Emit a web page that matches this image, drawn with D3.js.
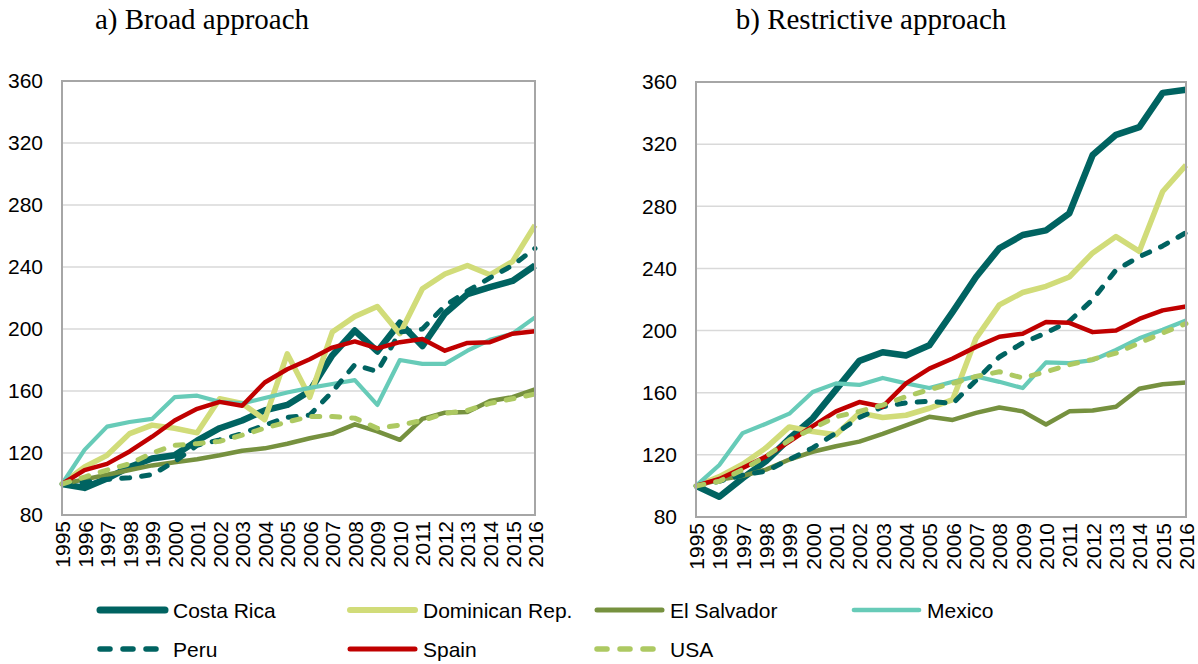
<!DOCTYPE html>
<html>
<head>
<meta charset="utf-8">
<script src="https://cdn.jsdelivr.net/npm/d3@7"></script>
<style>
  html, body { margin: 0; padding: 0; background: #ffffff; }
  svg { display: block; }
</style>
</head>
<body>
<svg id="chart" width="1198" height="664"></svg>
<script>
// ---------- DATA ----------
const years = ["1995","1996","1997","1998","1999","2000","2001","2002","2003","2004","2005","2006","2007","2008","2009","2010","2011","2012","2013","2014","2015","2016"];
const yTicks = [80, 120, 160, 200, 240, 280, 320, 360];
const seriesNames = ["Costa Rica", "Dominican Rep.", "El Salvador", "Mexico", "Peru", "Spain", "USA"];
const panelTitles = ["a) Broad approach", "b) Restrictive approach"];

// a) Broad approach
const broadCostaRica = [100, 97.5, 103.5, 111, 116.5, 118.5, 128, 136, 141, 147.5, 151, 160, 183, 199, 185.5, 204, 189, 210, 222.5, 227, 231, 241];
const broadDominican = [100, 111, 118.5, 132.5, 138, 136, 133, 155, 152, 141.5, 184, 156, 198, 208, 214.5, 197, 226, 235.5, 241, 235, 243.5, 267];
const broadElSalvador = [100, 103, 106, 109, 112, 114, 116, 118.5, 121.5, 123, 126, 129.5, 132.5, 138.5, 134, 128.5, 142, 146, 146.5, 153.5, 156, 161];
const broadMexico = [100, 122, 137, 140, 142, 156, 157, 153, 152, 155.5, 159, 162, 164.5, 167, 151, 180, 177.5, 177.5, 186, 193, 197, 207.5];
const broadPeru = [100, 101, 103, 104, 106, 114.5, 125, 128.5, 132.5, 138, 143, 144.5, 159.5, 177, 172.5, 198, 200, 215, 224.5, 233, 241, 252];
const broadSpain = [100, 109, 113, 121, 130.5, 141, 148.5, 153, 150.5, 165.5, 174, 180.5, 188, 192, 187.5, 191.5, 193.5, 186, 191, 191.5, 197, 198.5];
const broadUSA = [100, 104.5, 109, 113, 120, 125, 126, 127.5, 131.5, 136, 140, 143.5, 143.5, 142.5, 136, 138, 141, 145.5, 147.5, 152, 155, 158];

// b) Restrictive approach
const restrCostaRica = [100, 93, 105, 116, 130.5, 143.5, 162, 180.5, 186, 184, 190.5, 212, 234.5, 253, 261.5, 264.5, 275.5, 313, 326, 331, 353, 355];
const restrDominican = [100, 106, 114, 124.5, 138, 135, 133, 147, 144, 145.5, 150, 155.5, 195, 216.5, 224.5, 228.5, 234.5, 250, 260.5, 251, 289.5, 306.5];
const restrElSalvador = [100, 104, 106.5, 110.5, 117, 122, 125.5, 128.5, 133.5, 139, 144.5, 142.5, 147, 150.5, 148, 139.5, 148, 148.5, 151, 162.5, 165.5, 166.5];
const restrMexico = [100, 113.5, 134, 140, 146.5, 160.5, 166, 165, 169.5, 166, 163, 167, 170.5, 167, 163, 179.5, 179, 181, 187.5, 195, 200.5, 206.5];
const restrPeru = [100, 103, 107, 109.5, 117, 124.5, 134, 144, 151, 153.5, 154.5, 153, 168, 183, 192, 198.5, 206, 220, 239, 247.5, 254.5, 263];
const restrSpain = [100, 104.5, 111.5, 119, 128.5, 138.5, 148, 154, 151, 166, 175.5, 182, 189.5, 196, 198, 205.5, 205, 199, 200, 207.5, 213, 215.5];
const restrUSA = [100, 103, 110.5, 119, 129.5, 137, 144.5, 148, 152, 157.5, 162, 166, 170.5, 173.5, 169.5, 173.5, 178, 181.5, 185.5, 192, 198.5, 204.5];

// ---------- STYLES ----------
const styles = {
  "Costa Rica":     { color: "#006361", width: 6.5, dash: null },
  "Dominican Rep.": { color: "#d1dc79", width: 5.5, dash: null },
  "El Salvador":    { color: "#76913f", width: 4.5, dash: null },
  "Mexico":         { color: "#67cbb8", width: 4.2, dash: null },
  "Peru":           { color: "#006361", width: 5,   dash: "8,12" },
  "Spain":          { color: "#c00000", width: 4.5, dash: null },
  "USA":            { color: "#adc962", width: 5,   dash: "8,12" }
};

const panels = [
  { title: panelTitles[0], left: 62, right: 535, top: 81, bottom: 515, titleX: 202,
    series: [broadCostaRica, broadDominican, broadElSalvador, broadMexico, broadPeru, broadSpain, broadUSA] },
  { title: panelTitles[1], left: 696, right: 1186, top: 82, bottom: 517, titleX: 871,
    series: [restrCostaRica, restrDominican, restrElSalvador, restrMexico, restrPeru, restrSpain, restrUSA] }
];

const svg = d3.select("#chart");
const sansFont = "'Liberation Sans', Arial, sans-serif";
const serifFont = "'Liberation Serif', 'Times New Roman', serif";

panels.forEach(p => {
  const g = svg.append("g");
  const x = d3.scalePoint().domain(years).range([p.left, p.right]).padding(0);
  const y = d3.scaleLinear().domain([80, 360]).range([p.bottom, p.top]);

  // title
  g.append("text")
    .attr("x", p.titleX).attr("y", 29)
    .attr("text-anchor", "middle")
    .style("font-family", serifFont)
    .style("font-size", "29px")
    .attr("fill", "#000")
    .text(p.title);

  // gridlines
  g.append("g").selectAll("line")
    .data(yTicks.filter(t => t > 80 && t < 360))
    .join("line")
    .attr("x1", p.left).attr("x2", p.right)
    .attr("y1", d => y(d)).attr("y2", d => y(d))
    .attr("stroke", "#d9d9d9").attr("stroke-width", 1.5);

  // y axis
  const yAxis = g.append("g")
    .attr("transform", `translate(${p.left},0)`)
    .call(d3.axisLeft(y).tickValues(yTicks).tickSize(0).tickPadding(19));
  yAxis.select(".domain").remove();
  yAxis.selectAll("text")
    .style("font-family", sansFont).style("font-size", "21px").attr("fill", "#000");

  // x axis
  const xAxis = g.append("g")
    .attr("transform", `translate(0,${p.bottom})`)
    .call(d3.axisBottom(x).tickSize(0));
  xAxis.select(".domain").remove();
  xAxis.selectAll("text")
    .attr("transform", "rotate(-90)")
    .attr("x", -6).attr("y", 0).attr("dy", "0.36em")
    .attr("text-anchor", "end")
    .style("font-family", sansFont).style("font-size", "21px").attr("fill", "#000");

  // lines
  const line = d3.line().x((d, i) => x(years[i])).y(d => y(d));
  seriesNames.forEach((name, k) => {
    const s = styles[name];
    g.append("path")
      .datum(p.series[k])
      .attr("d", line)
      .attr("fill", "none")
      .attr("stroke", s.color)
      .attr("stroke-width", s.width)
      .attr("stroke-linejoin", "round")
      .attr("stroke-linecap", s.dash ? "round" : "butt")
      .attr("stroke-dasharray", s.dash);
  });

  // frame
  g.append("rect")
    .attr("x", p.left).attr("y", p.top)
    .attr("width", p.right - p.left).attr("height", p.bottom - p.top)
    .attr("fill", "none").attr("stroke", "#a6a6a6").attr("stroke-width", 2);
});

// ---------- LEGEND ----------
const legendCols = [97, 347, 594, 851];
const legendRows = [610, 649];
const legend = svg.append("g");
seriesNames.forEach((name, k) => {
  const s = styles[name];
  const lx = legendCols[k % 4];
  const ly = legendRows[Math.floor(k / 4)];
  legend.append("line")
    .attr("x1", lx + 3).attr("x2", lx + 68)
    .attr("y1", ly).attr("y2", ly)
    .attr("stroke", s.color)
    .attr("stroke-width", s.width + 0.5)
    .attr("stroke-linecap", "round")
    .attr("stroke-dasharray", s.dash ? "10,13" : null);
  legend.append("text")
    .attr("x", lx + 76).attr("y", ly).attr("dy", "0.36em")
    .style("font-family", sansFont).style("font-size", "21px").attr("fill", "#000")
    .text(name);
});
</script>
</body>
</html>
